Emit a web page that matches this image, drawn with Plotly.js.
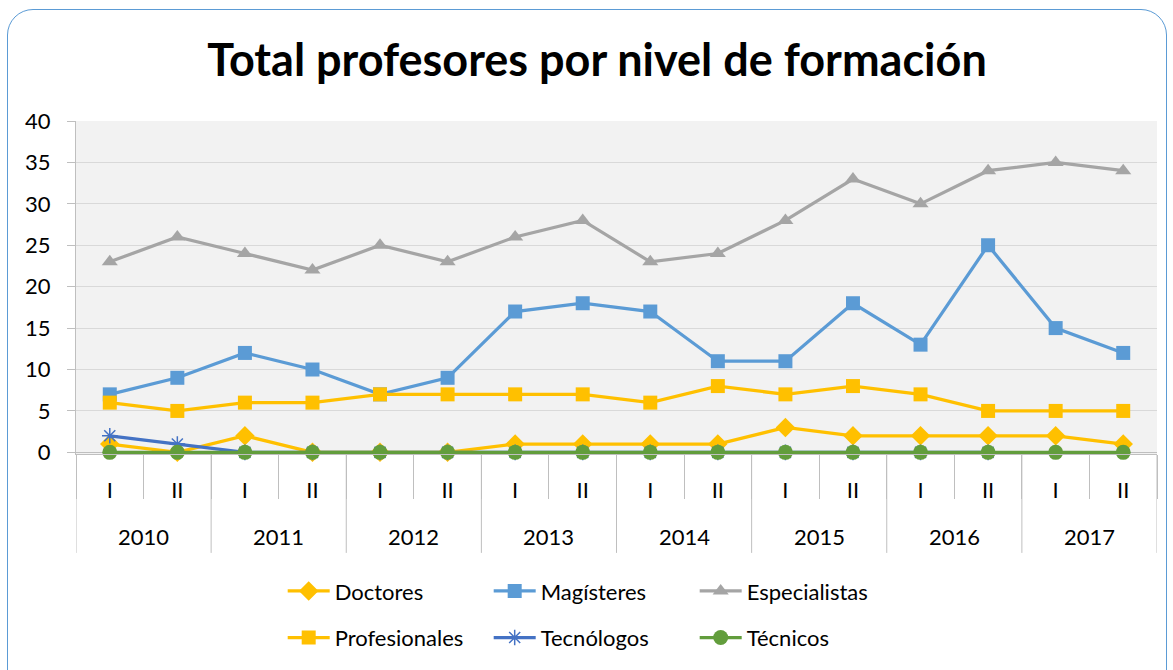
<!DOCTYPE html>
<html><head><meta charset="utf-8">
<script src="https://cdn.plot.ly/plotly-3.0.1.min.js"></script>
<style>
html,body{margin:0;padding:0;background:#fff;overflow:hidden}
#frame{position:absolute;left:7px;top:9px;width:1160px;height:700px;border:1.5px solid #5b9bd5;border-radius:26px;box-sizing:border-box}
#chart{position:absolute;left:0;top:0;width:1173px;height:670px}
</style></head><body>
<div id="frame"></div>
<div id="chart"></div>
<script>
const years = ["2010","2010","2011","2011","2012","2012","2013","2013","2014","2014","2015","2015","2016","2016","2017","2017"];
const semesters = ["I","II","I","II","I","II","I","II","I","II","I","II","I","II","I","II"];
const doctores = [1,0,2,0,0,0,1,1,1,1,3,2,2,2,2,1];
const magisteres = [7,9,12,10,7,9,17,18,17,11,11,18,13,25,15,12];
const especialistas = [23,26,24,22,25,23,26,28,23,24,28,33,30,34,35,34];
const profesionales = [6,5,6,6,7,7,7,7,6,8,7,8,7,5,5,5];
const tecnologos = [2,1,0,0,0,0,0,0,0,0,0,0,0,0,null,null];
const tecnicos = [0,0,0,0,0,0,0,0,0,0,0,0,0,0,0,0];

const idx = semesters.map((s,i)=>i);
function tr(name, y, color, symbol, size, legend){
  return {type:'scatter', mode:'lines+markers', name:name, x:idx, y:y, legend:legend,
    line:{color:color, width:3.25}, cliponaxis:false,
    marker:{color:color, symbol:symbol, size:size, line:{width:symbol==='asterisk'?1.5:0, color:color}},
    connectgaps:false};
}
const data = [
  tr('Doctores', doctores, '#ffc000', 'diamond', 15, 'legend'),
  tr('Magísteres', magisteres, '#5b9bd5', 'square', 14, 'legend'),
  tr('Especialistas', especialistas, '#a5a5a5', 'triangle-up', 14, 'legend'),
  tr('Profesionales', profesionales, '#ffc000', 'square', 14, 'legend2'),
  tr('Tecnólogos', tecnologos, '#4472c4', 'asterisk', 13, 'legend2'),
  tr('Técnicos', tecnicos, '#629d3c', 'circle', 15, 'legend2')
];
const uniqYears = [...new Set(years)];
const annotations = uniqYears.map(yr=>{
  const pos = years.map((v,i)=>v===yr?i:null).filter(v=>v!==null);
  const c = pos.reduce((a,b)=>a+b,0)/pos.length;
  return {text:yr, x:c, xref:'x', y:-0.249, yref:'paper', yanchor:'middle', xanchor:'center', showarrow:false, font:{size:22}};
});
const boundaries = [-0.5];
uniqYears.forEach(yr=>{ boundaries.push(years.lastIndexOf(yr)+0.5); });
const shapes = boundaries.map(b=>({type:'line', x0:b, x1:b, xref:'x', y0:0, y1:-0.297, yref:'paper', line:{color:'#bfbfbf', width:1}}));

const font = 'Lato, "Open Sans", sans-serif';
const layout = {
  width:1173, height:670,
  paper_bgcolor:'rgba(0,0,0,0)', plot_bgcolor:'#f2f2f2',
  margin:{l:76, r:16, t:121, b:216},
  font:{family:font, size:22, color:'#000'},
  title:{text:'<b>Total profesores por nivel de formación</b>', font:{family:font, size:45, color:'#000'}, x:0.509, xanchor:'center', xref:'container', y:0.91, yref:'container', yanchor:'middle'},
  xaxis:{range:[-0.5,15.5], tickmode:'array', tickvals:idx, ticktext:semesters, showgrid:false, zeroline:false,
    showline:true, linecolor:'#bfbfbf', linewidth:1, ticks:'', ticklabelstandoff:17,
    minor:{tickmode:'linear', tick0:-0.5, dtick:1, ticks:'outside', ticklen:44, tickcolor:'#bfbfbf', tickwidth:1, showgrid:false},
    tickfont:{size:22, family:font}, fixedrange:true},
  yaxis:{range:[-0.2,40], tickmode:'linear', tick0:0, dtick:5, showgrid:true, gridcolor:'#d9d9d9', gridwidth:1,
    zeroline:true, zerolinecolor:'#bfbfbf', zerolinewidth:1,
    showline:true, linecolor:'#bfbfbf', ticks:'outside', ticklen:8, tickcolor:'#bfbfbf',
    ticklabelstandoff:12, tickfont:{size:22, family:font}, fixedrange:true},
  showlegend:true,
  legend:{orientation:'h', xref:'container', yref:'container', x:0.241, xanchor:'left', y:0.149, yanchor:'top',
    font:{size:22, family:font}, entrywidth:149, entrywidthmode:'pixels', itemwidth:42, bgcolor:'rgba(0,0,0,0)'},
  legend2:{orientation:'h', xref:'container', yref:'container', x:0.241, xanchor:'left', y:0.0795, yanchor:'top',
    font:{size:22, family:font}, entrywidth:149, entrywidthmode:'pixels', itemwidth:42, bgcolor:'rgba(0,0,0,0)'},
  annotations:annotations, shapes:shapes
};
Plotly.newPlot('chart', data, layout, {displayModeBar:false, staticPlot:true});
</script>
</body></html>
